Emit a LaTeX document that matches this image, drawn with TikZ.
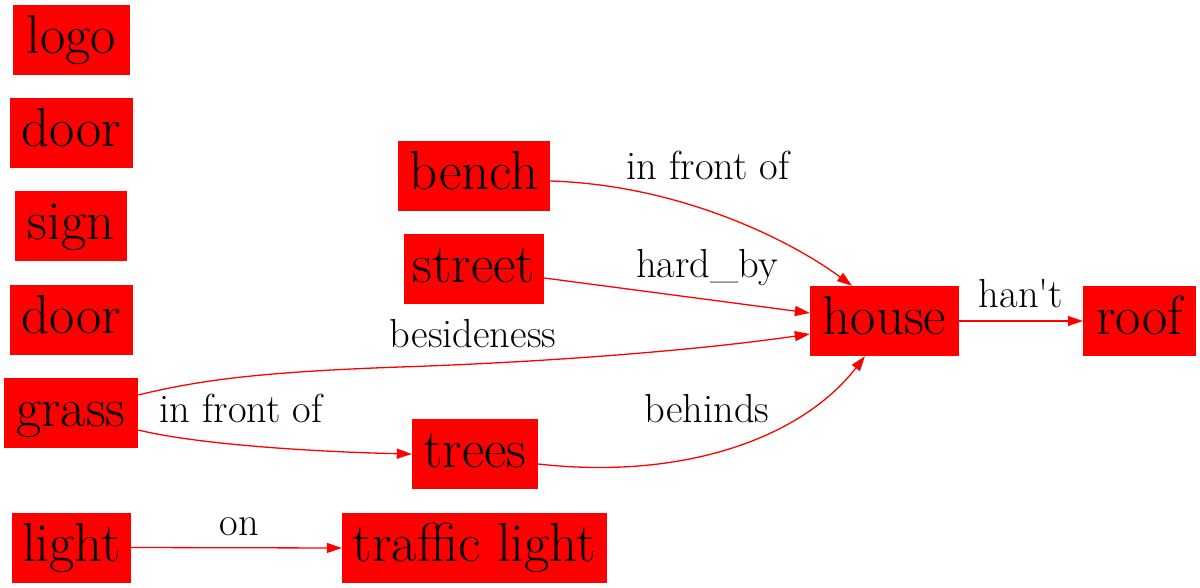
\documentclass[tikz,border=0pt]{standalone}
\usepackage{fontspec}
\usetikzlibrary{arrows.meta}
\begin{document}
\begin{tikzpicture}[x=1pt,y=-1pt,
  box/.style={fill=red, draw=none, inner sep=0pt, font=\rmfamily\fontsize{55}{62}\selectfont,
    text height=40pt, text depth=13pt, minimum height=70pt},
  lbl/.style={font=\rmfamily\fontsize{40.5}{46}\selectfont, anchor=base, inner sep=0pt},
  conn/.style={draw=red, line width=1.3pt, -{Triangle[length=15pt,width=10pt]}}]
\useasboundingbox (0,0) rectangle (1200,588);
% nodes
\node[box, minimum width=117pt] (logo) at (71.5,40) {logo};
\node[box, minimum width=123pt] (door1) at (71.5,133) {door};
\node[box, minimum width=112pt] (sign) at (71,226.5) {sign};
\node[box, minimum width=123pt] (door2) at (71.5,320) {door};
\node[box, minimum width=134pt] (grass) at (71,413) {grass};
\node[box, minimum width=119pt] (light) at (71.5,547.5) {light};
\node[box, minimum width=152pt] (bench) at (474,176) {bench};
\node[box, minimum width=140pt] (street) at (474,269) {street};
\node[box, minimum width=126pt] (trees) at (475,454) {trees};
\node[box, minimum width=265pt] (traffic) at (474.5,548) {traffic light};
\node[box, minimum width=149pt] (house) at (884.5,321) {house};
\node[box, minimum width=113pt] (roof) at (1139.5,321) {roof};
% connectors
\draw[conn] ([yshift=-5pt]bench.east) .. controls (680,185) and (790,240) .. ([xshift=-32.5pt]house.north);
\draw[conn] ([yshift=-9pt]street.east) -- ([yshift=8pt]house.west);
\draw[conn] ([yshift=18pt]grass.east) .. controls (200,380) and (260,372) .. (400,367)
   .. controls (550,362) and (700,350) .. ([yshift=-13pt]house.west);
\draw[conn] ([yshift=-17pt]grass.east) .. controls (200,445) and (320,452) .. (trees.west);
\draw[conn] ([yshift=-10pt]trees.east) .. controls (680,480) and (800,440) .. ([xshift=-19.5pt]house.south);
\draw[conn] (house.east) -- (roof.west);
\draw[conn] (light.east) -- (traffic.west);
% labels
\node[lbl] (l1) at (708,180) {in front of};
\node[lbl] (l2) at (707,277) {hard\_by};
\node[lbl] (l3) at (473,347) {besideness};
\node[lbl] (l4) at (241,422) {in front of};
\node[lbl] (l5) at (707,422) {behinds};
\node[lbl] (l6) at (1021,307) {han\textquotesingle t};
\node[lbl] (l7) at (239.5,535) {on};
\end{tikzpicture}
\end{document}
